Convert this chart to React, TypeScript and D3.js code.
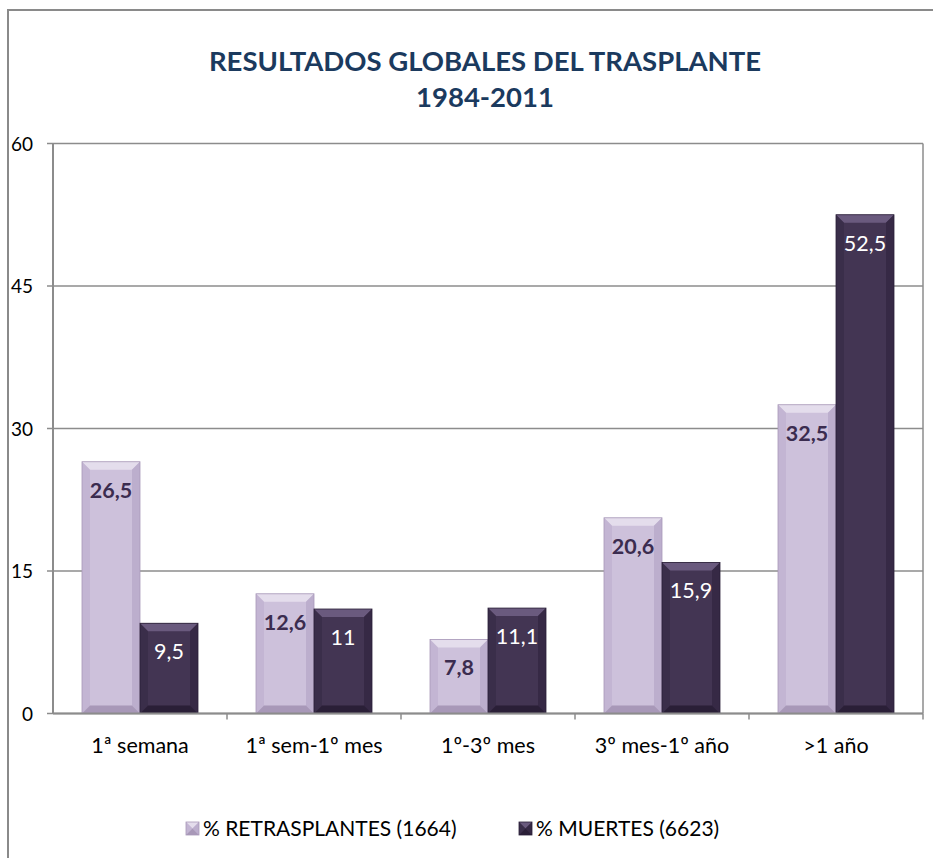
import React from 'react';
import * as d3 from 'd3';

const categories = ['1ª semana', '1ª sem-1º mes', '1º-3º mes', '3º mes-1º año', '>1 año'];
const retrasplantes = [26.5, 12.6, 7.8, 20.6, 32.5];
const muertes = [9.5, 11, 11.1, 15.9, 52.5];
const yTicks = [0, 15, 30, 45, 60];
const seriesNames = ['% RETRASPLANTES (1664)', '% MUERTES (6623)'];
const titleLines = ['RESULTADOS GLOBALES DEL TRASPLANTE', '1984-2011'];

const W = 933, H = 858;
const M = { left: 53, right: 923, top: 143.5, bottom: 713.5 };
const FONT = 'Lato, "Open Sans", sans-serif';

const PAL = [
  { main: '#cdc1db', top: '#e4ddec', side: '#bcaecd', bottom: '#a898b8', label: '#3b2c4f', weight: 700 },
  { main: '#433553', top: '#6a5a7e', side: '#362945', bottom: '#2a1f37', label: '#ffffff', weight: 400 },
];

function Bar({ x, y, w, h, p }: { x: number; y: number; w: number; h: number; p: typeof PAL[0] }) {
  const b = Math.min(8, h / 2);
  return (
    <g>
      <rect x={x} y={y} width={w} height={h} fill={p.main} />
      <polygon points={`${x},${y} ${x + w},${y} ${x + w - b},${y + b} ${x + b},${y + b}`} fill={p.top} />
      <polygon points={`${x},${y} ${x + b},${y + b} ${x + b},${y + h - b} ${x},${y + h}`} fill={p.side} opacity={0.6} />
      <polygon points={`${x + w},${y} ${x + w - b},${y + b} ${x + w - b},${y + h - b} ${x + w},${y + h}`} fill={p.side} />
      <polygon points={`${x},${y + h} ${x + b},${y + h - b} ${x + w - b},${y + h - b} ${x + w},${y + h}`} fill={p.bottom} />
      <rect x={x} y={y} width={w} height={h} fill="none" stroke={p.bottom} strokeWidth={0.8} />
    </g>
  );
}

export default function App() {
  const x = d3.scaleBand<string>().domain(categories).range([M.left, M.right]).paddingInner(1 / 3).paddingOuter(1 / 6);
  const xs = d3.scaleBand<number>().domain([0, 1]).range([0, x.bandwidth()]);
  const y = d3.scaleLinear().domain([0, 60]).range([M.bottom, M.top]);
  const series = [retrasplantes, muertes];
  const step = x.step();

  return (
    <div style={{ position: 'fixed', left: 0, top: 0 }}>
      <svg width={W} height={H} style={{ display: 'block', background: '#fff' }}>
        <rect x={8} y={10} width={W + 10} height={H + 10} fill="#fff" stroke="#8a8a8a" strokeWidth={2} />

        {titleLines.map((t, i) => (
          <text key={t} x={485} y={71 + i * 36} textAnchor="middle" fontFamily={FONT} fontWeight={700} fontSize={27.5} fill="#1b3a5e">
            {t}
          </text>
        ))}

        {yTicks.map(t => (
          <g key={t}>
            <line x1={M.left - 6} x2={M.right} y1={y(t)} y2={y(t)} stroke="#8c8c8c" strokeWidth={1.5} />
            <text x={33} y={y(t) + 7} textAnchor="end" fontFamily={FONT} fontSize={19} fill="#000">{t}</text>
          </g>
        ))}
        <line x1={M.left} x2={M.left} y1={M.top} y2={M.bottom} stroke="#8c8c8c" strokeWidth={2} />
        <line x1={M.right} x2={M.right} y1={M.top} y2={M.bottom} stroke="#8c8c8c" strokeWidth={1.5} />

        {categories.map((c, i) => (
          <line key={c} x1={M.left + step * (i + 1)} x2={M.left + step * (i + 1)} y1={M.bottom} y2={M.bottom + 6} stroke="#8c8c8c" strokeWidth={1.5} />
        ))}

        {series.map((vals, s) =>
          vals.map((v, i) => {
            const bx = (x(categories[i]) ?? 0) + (xs(s) ?? 0);
            const by = y(v);
            const bh = M.bottom - by;
            const bw = xs.bandwidth();
            return (
              <g key={`${s}-${i}`}>
                <Bar x={bx} y={by} w={bw} h={bh} p={PAL[s]} />
                <text x={bx + bw / 2} y={by + 36} textAnchor="middle" fontFamily={FONT} fontSize={21.5} fontWeight={PAL[s].weight} fill={PAL[s].label}>
                  {String(v).replace('.', ',')}
                </text>
              </g>
            );
          })
        )}
        <line x1={M.left} x2={M.right} y1={M.bottom} y2={M.bottom} stroke="#8c8c8c" strokeWidth={2} />

        {categories.map(c => (
          <text key={c} x={(x(c) ?? 0) + x.bandwidth() / 2} y={753} textAnchor="middle" fontFamily={FONT} fontSize={21.5} fill="#000">{c}</text>
        ))}

        {seriesNames.map((n, s) => {
          const lx = s === 0 ? 186 : 519;
          return (
            <g key={n}>
              <Bar x={lx} y={822} w={13} h={13} p={{ ...PAL[s], }} />
              <text x={lx + 17} y={836} fontFamily={FONT} fontSize={21} fill="#000">{n}</text>
            </g>
          );
        })}
      </svg>
    </div>
  );
}
